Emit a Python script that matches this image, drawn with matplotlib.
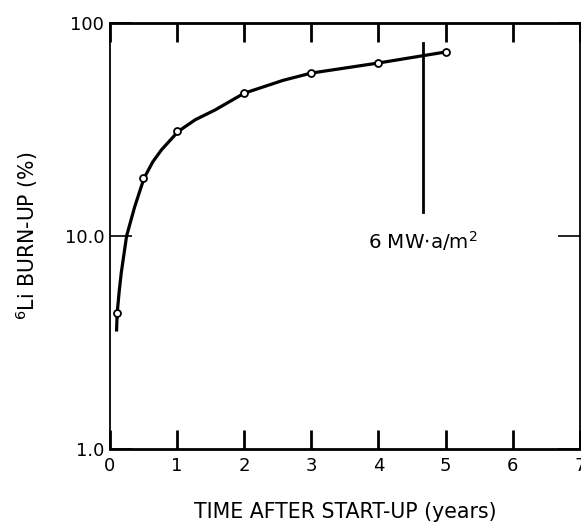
import numpy as np
import matplotlib
matplotlib.use("Agg")
import matplotlib.pyplot as plt

# measured points (open circles)
time_yr = [0.1, 0.5, 1.0, 2.0, 3.0, 4.0, 5.0]
burnup = [4.36, 18.7, 31.2, 46.8, 58.2, 64.9, 73.1]

# hand drawn curve
curve_x = [0.1, 0.11, 0.14, 0.17, 0.25, 0.37, 0.51, 0.64, 0.77, 1.02,
           1.27, 1.57, 2.0, 2.58, 3.0, 4.0, 5.0]
curve_y = [3.56, 4.36, 5.5, 6.7, 10.0, 13.7, 18.7, 22.3, 25.4, 31.0,
           35.1, 39.1, 46.8, 53.8, 58.2, 64.9, 73.1]

# 6 MW.a/m2 marker line
mark_x = 4.66
mark_y = [13.0, 80.6]
mark_label = "6 MW$\\cdot$a/m$^2$"

xticks = [0, 1, 2, 3, 4, 5, 6, 7]
yticks = [1, 10, 100]
ytick_labels = ["1.0", "10.0", "100"]

plt.rcParams['font.family'] = ['DejaVu Sans']
plt.rcParams['mathtext.fontset'] = 'dejavusans'

fig = plt.figure(figsize=(5.81, 5.23), dpi=100)
ax = fig.add_axes([0.189, 0.1415, 0.809, 0.8145])

ax.plot(curve_x, curve_y, color="black", lw=2.3, zorder=2,
        solid_joinstyle="round", solid_capstyle="butt")
ax.plot(time_yr, burnup, "o", mfc="white", mec="black", ms=5, mew=1.3, zorder=3)
ax.plot([mark_x, mark_x], mark_y, color="black", lw=2, zorder=2)
ax.text(4.66, 9.5, mark_label, ha="center", va="center", fontsize=14.3)

ax.set_yscale("log")
ax.set_xlim(0, 7)
ax.set_ylim(1, 100)
ax.set_xticks(xticks)
ax.set_yticks(yticks)
ax.set_yticklabels(ytick_labels)
ax.yaxis.set_minor_locator(matplotlib.ticker.NullLocator())
ax.tick_params(direction="in", length=14, width=2, labelsize=13, top=True, right=True, pad=6)
ax.tick_params(axis="y", length=16, width=1.2, pad=4)

for s in ["top", "bottom"]:
    ax.spines[s].set_linewidth(2)
ax.spines["left"].set_linewidth(1.3)
ax.spines["right"].set_linewidth(1.3)

ax.set_xlabel("TIME AFTER START-UP (years)", fontsize=14.8, labelpad=19)
ax.set_ylabel("$^6$Li BURN-UP (%)", fontsize=14.8, labelpad=18)

fig.savefig("out.png", dpi=100)
